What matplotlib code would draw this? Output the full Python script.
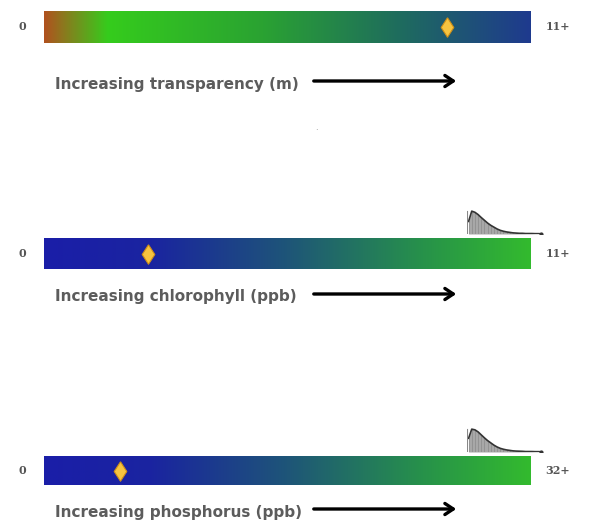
import matplotlib
matplotlib.use("Agg")
import matplotlib.pyplot as plt
import numpy as np
from matplotlib.colors import LinearSegmentedColormap

# indicator values
labels = ["Increasing transparency (m)", "Increasing chlorophyll (ppb)",
          "Increasing phosphorus (ppb)"]
max_labels = ["11+", "11+", "32+"]
scale_max = [11, 11, 32]
lake_values = [9.1, 2.35, 5.0]

# small distribution sketches above the chlorophyll and phosphorus bars
hist_chl = [0.55, 1.0, 0.95, 0.85, 0.72, 0.6, 0.48, 0.38, 0.3, 0.22, 0.16, 0.12,
            0.09, 0.07, 0.05, 0.04, 0.03, 0.03, 0.02, 0.02, 0.02, 0.015, 0.015, 0.01]
hist_phos = [0.6, 1.0, 0.97, 0.88, 0.75, 0.62, 0.5, 0.4, 0.3, 0.22, 0.16, 0.12,
             0.09, 0.07, 0.05, 0.04, 0.035, 0.03, 0.02, 0.02, 0.02, 0.015, 0.015, 0.01]
hists = [None, hist_chl, hist_phos]

cmap_clear = LinearSegmentedColormap.from_list(
    "clear", [(0.0, "#b0521e"), (0.04, "#8a7a1e"), (0.13, "#35cc1c"),
              (0.45, "#2aa232"), (0.72, "#1f6e5c"), (1.0, "#1e3a8e")])
cmap_green = LinearSegmentedColormap.from_list(
    "green", [(0.0, "#1a1ea8"), (0.22, "#1a24a0"), (0.5, "#1e5578"),
              (0.78, "#27924a"), (1.0, "#33ba2e")])
cmaps = [cmap_clear, cmap_green, cmap_green]

# diamond a bit taller than wide, like the marker in the picture
diamond = [(0, 1), (0.65, 0), (0, -1), (-0.65, 0), (0, 1)]

W, H = 592, 525
fig = plt.figure(figsize=(W / 100, H / 100), dpi=100)
fig.patch.set_facecolor("white")

bar_top = [11, 238, 456]
bar_h = [32, 31, 29]
label_y = [84, 297, 512]
x0, x1 = 44, 531
grey = "#555555"

for i in range(3):
    ax = fig.add_axes([x0 / W, 1 - (bar_top[i] + bar_h[i]) / H,
                       (x1 - x0) / W, bar_h[i] / H])
    vmax = scale_max[i]
    grad = np.linspace(0, 1, 256).reshape(1, -1)
    ax.imshow(grad, cmap=cmaps[i], aspect="auto", extent=(0, vmax, 0, 1))
    ax.plot(lake_values[i], 0.5, marker=diamond, ms=14, color="#f7c440",
            mec="#d09018", mew=0.8)
    ax.set_xlim(0, vmax)
    ax.set_ylim(0, 1)
    ax.axis("off")

    ax.text(-0.045, 0.5, "0", transform=ax.transAxes, ha="center", va="center",
            fontsize=8, fontweight="bold", color=grey, family="DejaVu Serif")
    ax.text(1.055, 0.5, max_labels[i], transform=ax.transAxes, ha="center",
            va="center", fontsize=8, fontweight="bold", color=grey,
            family="DejaVu Serif")

    # label and arrow underneath
    fig.text(55 / W, 1 - label_y[i] / H, labels[i], ha="left", va="center",
             fontsize=11, fontweight="bold", color="#5c5c5c",
             family="DejaVu Sans")
    fig.add_artist(matplotlib.patches.FancyArrowPatch(
        (311 / W, 1 - (label_y[i] - 3) / H), (459 / W, 1 - (label_y[i] - 3) / H),
        transform=fig.transFigure, arrowstyle="->,head_length=6,head_width=4",
        color="black", lw=2.4))

    if hists[i] is not None:
        h = hists[i]
        hax = fig.add_axes([467 / W, 1 - (bar_top[i] - 4) / H,
                            76 / W, 24 / H])
        xs = np.arange(len(h)) + 0.5
        hax.fill_between(xs, h, color="#a8a8a8", lw=0)
        hax.vlines(xs, 0, h, color="#8a8a8a", lw=0.5)
        hax.plot(xs, h, color="#333333", lw=1.2)
        hax.plot([xs[-1]], [h[-1]], marker="o", ms=2, color="#333333")
        hax.axvline(0, ymax=0.95, color="#888888", lw=0.8)
        hax.set_xlim(0, len(h))
        hax.set_ylim(0, 1.05)
        hax.axis("off")

# stray dot in the middle of the figure
fig.text(316 / W, 1 - 128 / H, ".", ha="center", va="center",
         fontsize=6, color="#888888")

fig.savefig("out.png", dpi=100, facecolor="white")
